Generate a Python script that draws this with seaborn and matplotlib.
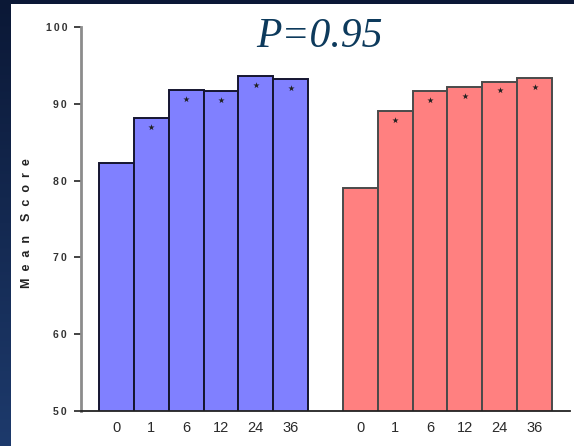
import numpy as np
import pandas as pd
import matplotlib
matplotlib.use("Agg")
import matplotlib.pyplot as plt
import seaborn as sns

# Follow-up months and mean scores for the two treatment arms
months = ["0", "1", "6", "12", "24", "36"]
blue_scores = [82.3, 88.1, 91.8, 91.7, 93.6, 93.2]
red_scores = [79.0, 89.0, 91.7, 92.2, 92.9, 93.3]
# Visits marked as significantly different from baseline
blue_marked = [False, True, True, True, True, True]
red_marked = [False, True, True, True, True, True]
title_text = "P=0.95"
y_label = "Mean Score"
y_ticks = [50, 60, 70, 80, 90, 100]

BLUE = "#8080ff"
RED = "#ff8080"


def spaced(text, gap="\u2009", word_gap="     "):
    """Letter-spaced version of a label."""
    return word_gap.join(gap.join(word) for word in text.split())


# Categorical slots: six blue bars, an empty spacer, six red bars
blue_keys = [f"B{m}" for m in months]
red_keys = [f"R{m}" for m in months]
order = blue_keys + ["gap"] + red_keys
df = pd.DataFrame({
    "slot": blue_keys + red_keys,
    "score": blue_scores + red_scores,
    "arm": ["blue"] * len(months) + ["red"] * len(months),
})

sns.set_theme(style="white")
plt.rcParams["font.family"] = ["Liberation Sans", "DejaVu Sans"]

W, H = 574, 446
fig = plt.figure(figsize=(W / 100, H / 100), dpi=100)

# Navy gradient backdrop with a white panel
bg = fig.add_axes([0, 0, 1, 1], zorder=-10)
top = np.array([0x0b, 0x18, 0x36]) / 255
bot = np.array([0x1d, 0x3a, 0x6c]) / 255
t = np.linspace(0, 1, 256)[:, None]
grad = (top[None, :] * (1 - t) + bot[None, :] * t)[:, None, :]
bg.imshow(grad, aspect="auto", extent=[0, 1, 0, 1], origin="upper")
bg.add_patch(plt.Rectangle((11 / W, 0), 1 - 11 / W, 1 - 4 / H,
                           facecolor="white", edgecolor="none"))
bg.set_xlim(0, 1)
bg.set_ylim(0, 1)
bg.axis("off")

# Plot area placed in pixel terms
x0, x1, y_bot, y_top = 81, 570, 411, 27
ax = fig.add_axes([x0 / W, (H - y_bot) / H, (x1 - x0) / W, (y_bot - y_top) / H])
ax.set_facecolor("none")

sns.barplot(data=df, x="slot", y="score", hue="arm", order=order,
            palette={"blue": BLUE, "red": RED}, width=1.0, dodge=False,
            saturation=1, legend=False, ax=ax)

for patch in ax.patches:
    fc = patch.get_facecolor()
    is_red = fc[0] > 0.9
    patch.set_edgecolor("#4a4a4a" if is_red else "#151530")
    patch.set_linewidth(1.4)

# Significance stars just below each bar top
for keys, scores, marks in ((blue_keys, blue_scores, blue_marked),
                            (red_keys, red_scores, red_marked)):
    for k, s, m in zip(keys, scores, marks):
        if m:
            ax.scatter(order.index(k), s - 1.15, marker="*", s=22,
                       color="#202020", linewidths=0, zorder=5)

ax.set_ylim(50, 100)
ax.set_xlim(-0.5 - 18 / 34.9, 12.5 + 18 / 34.9)
ax.set_yticks(y_ticks)
ax.set_yticklabels([spaced(str(v)) for v in y_ticks], fontsize=7.5,
                   fontweight="bold", color="#333333")
ax.set_xticks(range(len(order)))
ax.set_xticklabels(months + [""] + months, fontsize=10.5, color="#2a2a2a")
ax.tick_params(axis="y", direction="out", length=5, width=1.2, color="#222222",
               pad=5, left=True)
ax.tick_params(axis="x", length=0, pad=7)

for side in ("top", "right"):
    ax.spines[side].set_visible(False)
ax.spines["left"].set_color("#8c8c8c")
ax.spines["left"].set_linewidth(2)
ax.spines["bottom"].set_color("#222222")
ax.spines["bottom"].set_linewidth(1.3)

ax.set_xlabel("")
ax.set_ylabel(spaced(y_label, gap="  ", word_gap="    "), fontsize=9,
              fontweight="bold", color="#222222", labelpad=8)
ax.yaxis.set_label_coords(-0.099, 0.49)

fig.text(319 / W, 1 - 37 / H, title_text, ha="center", va="center",
         fontsize=30, style="italic", color="#0d3a5c",
         family=["Liberation Serif", "DejaVu Serif"])

fig.savefig("out.png", dpi=100)
